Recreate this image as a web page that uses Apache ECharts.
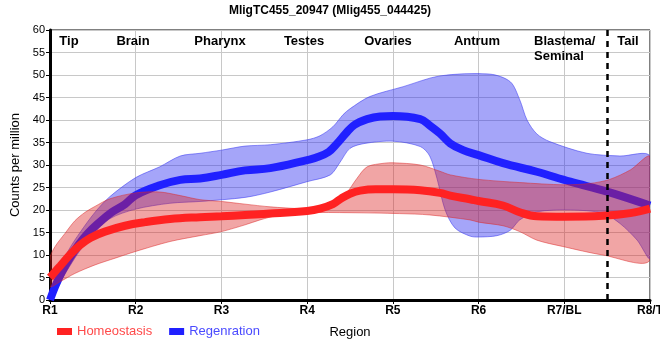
<!DOCTYPE html>
<html>
<head>
<meta charset="utf-8">
<script src="https://cdn.jsdelivr.net/npm/echarts@6/dist/echarts.min.js"></script>
<style>html,body{margin:0;padding:0;background:#fff;}#chart{width:660px;height:360px;}</style>
</head>
<body>
<div id="chart"></div>
<script>
const titleText = 'MligTC455_20947 (Mlig455_044425)';
const tickLabels = ['R1', 'R2', 'R3', 'R4', 'R5', 'R6', 'R7/BL', 'R8/T'];
const regionNames = ['Tip', 'Brain', 'Pharynx', 'Testes', 'Ovaries', 'Antrum', 'Blastema/\nSeminal', 'Tail'];
const seriesNames = ['Homeostasis', 'Regenration'];

const homeoMean = [[0,5.0],[0.06,6.3],[0.12,7.6],[0.23,10.0],[0.35,12.2],[0.47,13.8],[0.64,15.2],[0.875,16.5],[1.11,17.3],[1.4,18.0],[1.75,18.4],[2.0,18.6],[2.275,18.9],[2.57,19.2],[3.0,19.8],[3.15,20.3],[3.3,21.3],[3.4,22.6],[3.5,23.6],[3.62,24.3],[3.8,24.6],[4.0,24.6],[4.32,24.4],[4.55,23.8],[4.67,23.2],[4.9,22.4],[5.0,22.0],[5.285,21.0],[5.48,19.5],[5.68,18.6],[6.0,18.5],[6.45,18.7],[6.77,19.3],[7.0,20.3]];
const homeoUpper = [[0,9.4],[0.06,11.9],[0.175,14.8],[0.29,17.6],[0.41,19.5],[0.525,20.8],[0.7,22.5],[1.0,23.8],[1.28,24.0],[1.52,23.2],[1.75,22.3],[2.0,21.9],[2.275,21.3],[2.57,20.7],[2.92,20.3],[3.15,20.4],[3.3,20.8],[3.45,23.5],[3.58,27.0],[3.7,29.6],[3.9,30.4],[4.0,30.5],[4.32,30.0],[4.55,28.6],[4.67,27.8],[5.0,26.8],[5.48,26.1],[6.0,25.6],[6.3,25.9],[6.53,26.8],[6.77,28.9],[7.0,31.8]];
const homeoLower = [[0,3.0],[0.12,4.1],[0.29,5.9],[0.525,7.8],[0.76,9.3],[1.0,10.8],[1.4,13.0],[1.75,14.3],[2.0,15.2],[2.275,16.7],[2.45,17.8],[2.68,18.9],[3.0,19.4],[3.5,19.4],[4.08,19.2],[4.43,18.9],[4.9,17.8],[5.0,17.3],[5.285,16.5],[5.48,15.2],[5.68,13.3],[5.98,11.9],[6.45,10.0],[7.0,8.9]];

const regenMean = [[0,0],[0.06,3],[0.14,6.3],[0.23,9.3],[0.33,12.2],[0.44,14.8],[0.56,17],[0.72,19.5],[0.875,21.3],[1.0,23.3],[1.28,25.5],[1.52,26.7],[1.75,27.0],[2.0,27.8],[2.275,28.8],[2.57,29.3],[3.0,31.1],[3.1,31.6],[3.25,32.9],[3.35,34.8],[3.45,37.0],[3.55,38.9],[3.7,40.2],[3.85,40.8],[4.0,40.9],[4.32,40.2],[4.43,38.8],[4.55,37.0],[4.67,34.8],[4.82,33.3],[5.0,32.2],[5.285,30.4],[5.68,28.5],[6.07,26.3],[6.5,24.1],[7.0,21.0]];
const regenUpper = [[0,0.5],[0.12,7.5],[0.23,11.5],[0.35,15],[0.525,19.5],[0.7,23],[1.0,27.2],[1.28,29.6],[1.52,32],[1.75,32.6],[2.0,33.3],[2.275,34.2],[2.57,34.5],[3.0,35.6],[3.15,36.5],[3.3,38.5],[3.42,41.2],[3.5,42.5],[3.73,45.2],[4.12,47.4],[4.55,49.8],[5.13,50.2],[5.37,48.5],[5.48,44.5],[5.565,40],[5.68,36.9],[5.83,35.2],[6.265,32.6],[6.65,32.0],[7.0,31.9]];
const regenLower = [[0,0],[0.12,4],[0.23,7.5],[0.35,11],[0.525,15],[0.7,18.1],[1.0,20.2],[1.4,21.5],[1.75,21.9],[2.275,22.8],[2.57,24.0],[3.0,26.3],[3.27,27.8],[3.38,30.5],[3.5,33.7],[3.675,34.8],[4.0,35.3],[4.32,34.1],[4.43,32],[4.515,27],[4.61,20],[4.725,16],[4.9,14.2],[5.0,14.0],[5.215,14.3],[5.37,15.5],[5.48,17.8],[5.68,19.6],[6.07,20],[6.45,19.3],[6.65,17],[6.85,13.3],[7.0,9.3]];

const dividerAt = 6.5;

const FONT = "'Liberation Sans', Arial, sans-serif";

function bandRenderer(upper, lower, fill, stroke) {
  return function (params, api) {
    const pts = upper.map(p => api.coord(p)).concat(lower.slice().reverse().map(p => api.coord(p)));
    return {
      type: 'polygon',
      shape: { points: pts, smooth: 0.3 },
      style: { fill: fill, stroke: stroke, lineWidth: 1 }
    };
  };
}

const chart = echarts.init(document.getElementById('chart'), null, { renderer: 'canvas' });

const labelX = [69, 133, 220, 304, 388, 477, 534, 628];
const graphics = regionNames.map((t, i) => ({
  type: 'text',
  x: labelX[i],
  y: 34,
  z: 100,
  style: {
    text: t,
    font: 'bold 13px ' + FONT,
    fill: '#000',
    align: i === 6 ? 'left' : 'center',
    verticalAlign: 'top',
    lineHeight: 15
  }
}));

chart.setOption({
  animation: false,
  backgroundColor: '#fff',
  textStyle: { fontFamily: FONT },
  title: {
    text: titleText,
    left: 'center',
    top: 0,
    textStyle: { fontSize: 12, fontWeight: 'bold', color: '#000', fontFamily: FONT }
  },
  grid: { left: 50, right: 10, top: 30, bottom: 60, show: true, borderColor: '#000', borderWidth: 1, backgroundColor: 'transparent', outerBoundsMode: 'none', containLabel: false },
  legend: {
    left: 52, top: 320,
    icon: 'rect', itemWidth: 15, itemHeight: 7, itemGap: 17,
    textStyle: { fontSize: 13, fontFamily: FONT },
    data: [
      { name: seriesNames[0], textStyle: { color: '#ff4a4a' } },
      { name: seriesNames[1], textStyle: { color: '#4a4aff' } }
    ]
  },
  xAxis: {
    type: 'value', min: 0, max: 7, interval: 1,
    name: 'Region', nameLocation: 'middle', nameGap: 26,
    nameTextStyle: { fontSize: 13, color: '#000', fontFamily: FONT },
    axisLine: { show: true, onZero: false, lineStyle: { color: '#000', width: 3 } },
    axisTick: { show: true, length: 4, lineStyle: { color: '#000', width: 1 } },
    axisLabel: { fontSize: 12, fontWeight: 'bold', color: '#000', margin: 5, showMinLabel: true, showMaxLabel: true, hideOverlap: false,
      formatter: v => tickLabels[Math.round(v)] || '' },
    splitLine: { show: true, lineStyle: { color: '#c8c8c8', width: 1 } }
  },
  yAxis: {
    type: 'value', min: 0, max: 60, interval: 5,
    name: 'Counts per million', nameLocation: 'middle', nameGap: 21,
    nameTextStyle: { fontSize: 13, color: '#000', fontFamily: FONT },
    axisLine: { show: true, lineStyle: { color: '#000', width: 3 } },
    axisTick: { show: true, length: 4, lineStyle: { color: '#000', width: 1 } },
    axisLabel: { fontSize: 11, color: '#000', margin: 5 },
    splitLine: { show: true, lineStyle: { color: '#c8c8c8', width: 1 } }
  },
  graphic: graphics,
  series: [
    {
      type: 'custom', name: 'regenBand', z: 1, silent: true, clip: true,
      renderItem: bandRenderer(regenUpper, regenLower, 'rgba(40,40,240,0.42)', 'rgba(60,60,240,0.55)'),
      data: [[0, 0]]
    },
    {
      type: 'line', name: seriesNames[1], z: 2, smooth: 0.4, symbol: 'none',
      data: regenMean, color: '#2020ff',
      lineStyle: { width: 8, color: '#2020ff', cap: 'butt' }
    },
    {
      type: 'custom', name: 'homeoBand', z: 3, silent: true, clip: true,
      renderItem: bandRenderer(homeoUpper, homeoLower, 'rgba(220,30,30,0.4)', 'rgba(220,40,40,0.5)'),
      data: [[0, 0]]
    },
    {
      type: 'line', name: seriesNames[0], z: 4, smooth: 0.4, symbol: 'none',
      data: homeoMean, color: '#ff2222',
      lineStyle: { width: 8, color: '#ff2222', cap: 'butt' },
      markLine: {
        silent: true, symbol: 'none', label: { show: false },
        lineStyle: { color: '#000', type: [6, 5], width: 2.5 },
        data: [{ xAxis: dividerAt }]
      }
    }
  ]
});
</script>
</body>
</html>
